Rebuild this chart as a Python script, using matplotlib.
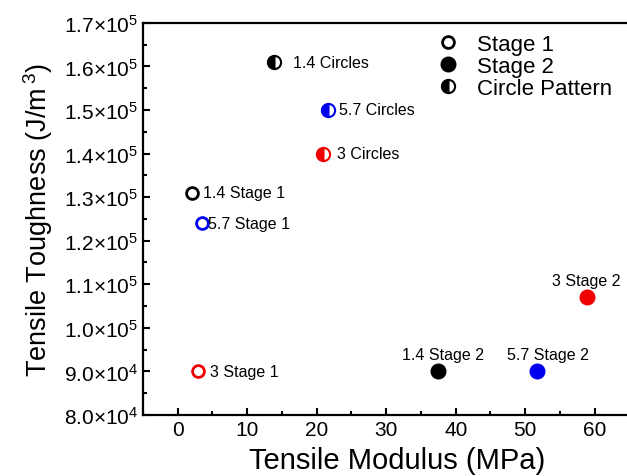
import numpy as np
import matplotlib.pyplot as plt
from matplotlib.lines import Line2D
from matplotlib.ticker import MultipleLocator, FuncFormatter

plt.rcParams['font.family'] = 'Liberation Sans'
plt.rcParams['mathtext.fontset'] = 'custom'
plt.rcParams['mathtext.rm'] = 'Liberation Sans'
plt.rcParams['mathtext.it'] = 'Liberation Sans'

# data: tensile modulus (MPa), tensile toughness (J/m^3)
labels = ['1.4 Stage 1', '5.7 Stage 1', '3 Stage 1',
          '1.4 Stage 2', '5.7 Stage 2', '3 Stage 2',
          '1.4 Circles', '5.7 Circles', '3 Circles']
modulus = [2.0, 3.5, 2.9, 37.5, 51.7, 58.9, 13.8, 21.6, 20.9]
toughness = [1.31e5, 1.24e5, 0.90e5, 0.90e5, 0.90e5, 1.07e5, 1.61e5, 1.50e5, 1.40e5]
colors = ['black', '#0000f0', '#f00000'] * 3
kinds = ['open'] * 3 + ['filled'] * 3 + ['half'] * 3
# label offsets in pixels
offsets = [(11, 0), (6, 0), (12, 0),
           (5, 17), (11, 17), (-1, 17),
           (19, 0), (11, 0), (14, 0)]
aligns = ['left'] * 3 + ['center'] * 3 + ['left'] * 3

fig = plt.figure(figsize=(6.27, 4.77), dpi=100)
ax = fig.add_axes([0.228, 0.128, 0.776, 0.822])

for x, y, c, k in zip(modulus, toughness, colors, kinds):
    if k == 'open':
        ax.plot(x, y, 'o', ms=8.5, mfc='white', mec=c, mew=2)
    elif k == 'filled':
        ax.plot(x, y, 'o', ms=10.5, mfc=c, mec=c, mew=1)
    else:
        ax.plot(x, y, 'o', ms=9.5, fillstyle='left', mfc=c, mfcalt='white', mec=c, mew=1.5)

for x, y, t, off, ha in zip(modulus, toughness, labels, offsets, aligns):
    ax.annotate(t, (x, y), xytext=off, textcoords='offset pixels',
                ha=ha, va='center', fontsize=11.5)

ax.set_xlim(-5, 65)
ax.set_ylim(8e4, 1.7e5)
ax.xaxis.set_major_locator(MultipleLocator(10))
ax.xaxis.set_minor_locator(MultipleLocator(5))
ax.yaxis.set_major_locator(MultipleLocator(1e4))
ax.yaxis.set_minor_locator(MultipleLocator(5e3))


def sci(v, pos):
    e = int(np.floor(np.log10(v)))
    m = v / 10 ** e
    return r'$%.1f{\times}10^{%d}$' % (m, e)


ax.yaxis.set_major_formatter(FuncFormatter(sci))
ax.tick_params(which='both', direction='in', top=False, right=False, labelsize=15, width=1.5)
ax.tick_params(which='major', length=5)
ax.tick_params(which='minor', length=3)
for s in ax.spines.values():
    s.set_linewidth(1.6)

ax.set_xlabel('Tensile Modulus (MPa)', fontsize=21)
ax.xaxis.set_label_coords(0.522, -0.078)
ax.set_ylabel(r'Tensile Toughness (J/m$\,^{3}$)', fontsize=19.5, labelpad=6)

handles = [
    Line2D([], [], ls='', marker='o', ms=8.5, mfc='white', mec='black', mew=2),
    Line2D([], [], ls='', marker='o', ms=10.5, mfc='black', mec='black'),
    Line2D([], [], ls='', marker='o', ms=9.5, fillstyle='left', mfc='black',
           mfcalt='white', mec='black', mew=1.5),
]
ax.legend(handles, ['Stage 1', 'Stage 2', 'Circle Pattern'], loc='upper left',
          bbox_to_anchor=(0.545, 1.018), frameon=False, fontsize=16,
          handletextpad=0.3, labelspacing=0.05, borderpad=0.3)

fig.savefig('out.png', dpi=100)
